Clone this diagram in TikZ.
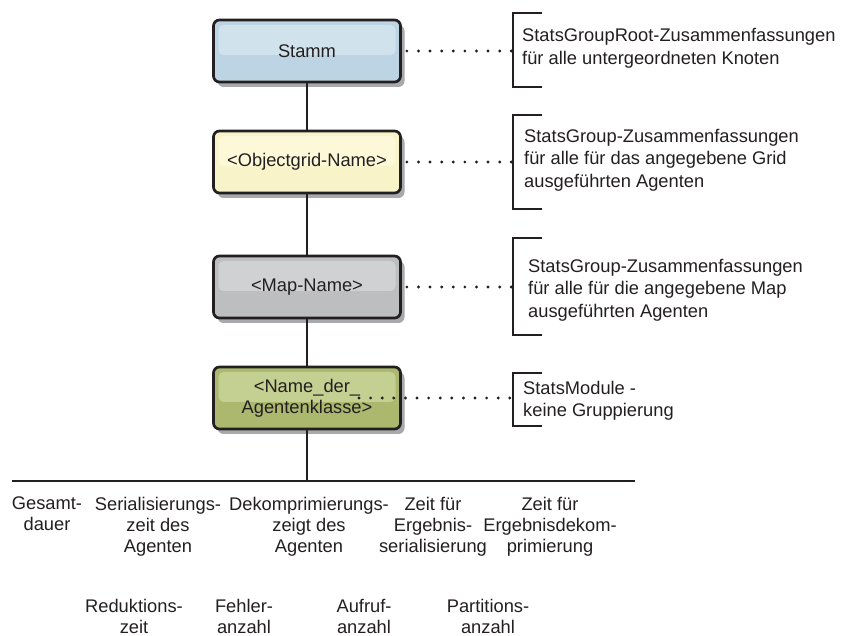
\documentclass[tikz,border=0pt]{standalone}
\usepackage{fontspec}
\setmainfont{Liberation Sans}
\usetikzlibrary{shadows}

\definecolor{ink}{HTML}{231F20}
\definecolor{shadowgray}{HTML}{A7A9AC}
\definecolor{stammfill}{HTML}{BCD4E3}
\definecolor{stammhl}{HTML}{D0E3EC}
\definecolor{gridfill}{HTML}{F8F3C8}
\definecolor{gridhl}{HTML}{FDF9D8}
\definecolor{mapfill}{HTML}{BDBEC0}
\definecolor{maphl}{HTML}{D0D1D3}
\definecolor{agentfill}{HTML}{ABB86E}
\definecolor{agenthl}{HTML}{C4CF92}

\tikzset{
  tierbox/.style n args={2}{
    draw=ink, line width=2.7pt, rounded corners=6pt,
    minimum width=187pt, minimum height=62pt, inner sep=0pt,
    align=center, text=ink, fill=#1,
    drop shadow={shadow xshift=4pt, shadow yshift=-5pt,
                 fill=shadowgray, opacity=1},
    path picture={
      \fill[#2, rounded corners=5pt]
        ([xshift=5pt,yshift=-5pt]path picture bounding box.north west)
        rectangle ([xshift=-5pt,yshift=-4pt]path picture bounding box.east);
    }
  },
  tree/.style={draw=ink, line width=2.7pt},
  brk/.style={draw=ink, line width=2.7pt},
  dots/.style={draw=ink, line width=3.2pt, line cap=round,
               dash pattern=on 0pt off 11.6pt},
  note/.style={anchor=west, align=left, inner sep=0pt, text=ink},
  lbl/.style={anchor=north, align=center, inner sep=0pt, text=ink,
              font=\fontsize{18.3}{21}\selectfont},
}

\begin{document}
\begin{tikzpicture}[x=1pt, y=-1pt, font=\fontsize{18.3}{22.5}\selectfont]
\useasboundingbox (0,0) rectangle (844,636);

% tier boxes
\node[tierbox={stammfill}{stammhl}] (stamm) at (307,51) {Stamm};
\node[tierbox={gridfill}{gridhl}] (grid) at (307,162) {<Objectgrid-Name>};
\node[tierbox={mapfill}{maphl}] (map) at (307,287) {<Map-Name>};
\node[tierbox={agentfill}{agenthl}, font=\fontsize{18.3}{21}\selectfont]
  (agent) at (307,398) {<Name\_der\_\\Agentenklasse>};

% tree spine and bottom bar
\coordinate (hl) at (12,481);
\coordinate (hr) at (635,481);
\coordinate (hj) at (307,481);
\draw[tree] (stamm.south) -- (grid.north);
\draw[tree] (grid.south) -- (map.north);
\draw[tree] (map.south) -- (agent.north);
\draw[tree] (agent.south) -- (hj);
\draw[tree] (hl) -- (hr);

% brackets with their notes
\draw[brk] (542,13) -| (513,87) -- (542,87);
\coordinate (b1) at (513,51);
\draw[brk] (542,115) -| (513,209) -- (542,209);
\coordinate (b2) at (513,162);
\draw[brk] (542,238) -| (513,335) -- (542,335);
\coordinate (b3) at (513,287);
\draw[brk] (542,373) -| (513,426) -- (542,426);
\coordinate (b4) at (513,398);
\coordinate (agentdot) at (359,398);

\node[note] (n1) at (522,48.5) {StatsGroupRoot-Zusammenfassungen\\für alle untergeordneten Knoten};
\node[note] (n2) at (524,160) {StatsGroup-Zusammenfassungen\\für alle für das angegebene Grid\\ausgeführten Agenten};
\node[note] (n3) at (528,290) {StatsGroup-Zusammenfassungen\\für alle für die angegebene Map\\ausgeführten Agenten};
\node[note] (n4) at (523,401) {StatsModule -\\keine Gruppierung};

% dotted leaders
\draw[dots] ([xshift=5pt]stamm.east) -- (b1);
\draw[dots] ([xshift=5pt]grid.east) -- (b2);
\draw[dots] ([xshift=5pt]map.east) -- (b3);
\draw[dots] (agentdot) -- (b4);

% statistics labels
\node[lbl] (l1) at (47,497) {Gesamt-\\dauer};
\node[lbl] (l2) at (158,497) {Serialisierungs-\\zeit des\\Agenten};
\node[lbl] (l3) at (309,497) {Dekomprimierungs-\\zeigt des\\Agenten};
\node[lbl] (l4) at (433,497) {Zeit für\\Ergebnis-\\serialisierung};
\node[lbl] (l5) at (550,497) {Zeit für\\Ergebnisdekom-\\primierung};
\node[lbl] (l6) at (134,599) {Reduktions-\\zeit};
\node[lbl] (l7) at (244,599) {Fehler-\\anzahl};
\node[lbl] (l8) at (364,599) {Aufruf-\\anzahl};
\node[lbl] (l9) at (488,599) {Partitions-\\anzahl};
\end{tikzpicture}
\end{document}
